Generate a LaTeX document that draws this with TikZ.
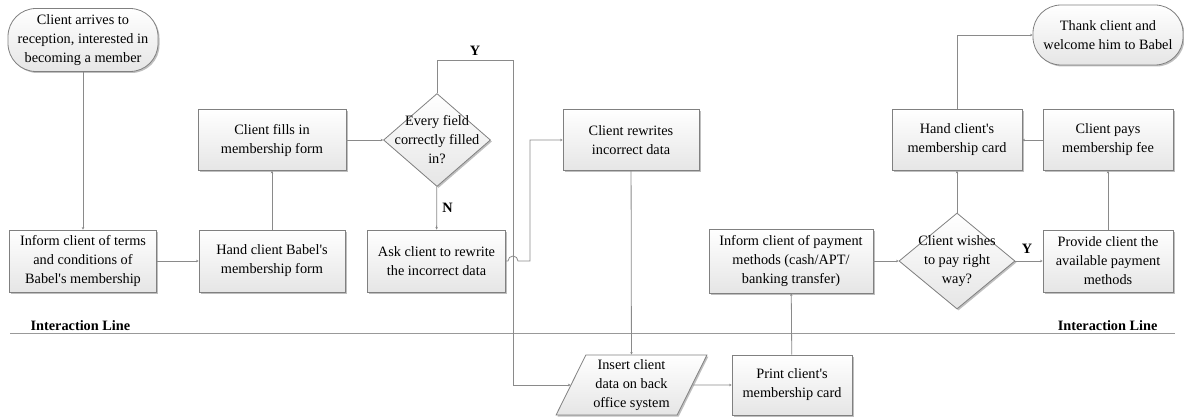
\documentclass[tikz,border=0pt]{standalone}
\usepackage{fontspec}
\setmainfont{Liberation Serif}
\usetikzlibrary{shapes.geometric,arrows.meta,shadows}

\definecolor{edge}{HTML}{808080}
\definecolor{wire}{HTML}{8A8A8A}
\newcommand{\ap}{\textquotesingle}

\tikzset{
  fillshade/.style={top color=white, bottom color=black!10, draw=edge, line width=0.8pt,
    drop shadow={shadow xshift=1.5pt, shadow yshift=-1.5pt, opacity=0.25, fill=black}},
  stepbox/.style={fillshade, rectangle, inner sep=0pt, align=center, font=\fontsize{14.3}{19}\selectfont},
  termbox/.style={stepbox, rounded corners=28pt},
  decbox/.style={fillshade, diamond, inner sep=0pt},
  iobox/.style={fillshade, trapezium, trapezium left angle=64, trapezium right angle=116,
    trapezium stretches=true, inner sep=0pt, align=center, font=\fontsize{14.3}{19}\selectfont},
  txt/.style={align=center, font=\fontsize{14.3}{19}\selectfont},
  flow/.style={draw=wire, line width=0.8pt, -{Stealth[length=2.5pt,width=2.5pt]}},
  yn/.style={font=\fontsize{14.3}{16}\bfseries\selectfont},
}

\begin{document}
\begin{tikzpicture}[x=1pt,y=-1pt]
\useasboundingbox (0,0) rectangle (1184,417);

% interaction line
\draw[draw=black!40, line width=1pt] (10,333) -- (1175,333);
\node[yn, anchor=base west] (il1) at (27,330) {Interaction Line};
\node[yn, anchor=base east] (il2) at (1161,330) {Interaction Line};

% front office nodes
\node[termbox, minimum width=150pt, minimum height=63pt] (start) at (83,40)
  {Client arrives to\\reception, interested in\\becoming a member};
\node[stepbox, minimum width=147pt, minimum height=62pt] (terms) at (83,261)
  {Inform client of terms\\and conditions of\\Babel\ap s membership};
\node[stepbox, minimum width=146pt, minimum height=62pt] (hand) at (272,261)
  {Hand client Babel\ap s\\membership form};
\node[stepbox, minimum width=148pt, minimum height=61pt] (fills) at (272,140)
  {Client fills in\\membership form};
\node[decbox, minimum width=107pt, minimum height=93pt] (check) at (437,140) {};
\node[txt] (checkt) at (437,140) {Every field\\correctly filled\\in?};
\node[stepbox, minimum width=138pt, minimum height=62pt] (ask) at (436.5,261)
  {Ask client to rewrite\\the incorrect data};
\node[stepbox, minimum width=136pt, minimum height=61pt] (rew) at (631,140)
  {Client rewrites\\incorrect data};
\node[stepbox, minimum width=164pt, minimum height=64pt] (payinfo) at (791,261)
  {Inform client of payment\\methods (cash/APT/\\banking transfer)};
\node[decbox, minimum width=116pt, minimum height=96pt] (wish) at (957,261) {};
\node[txt] (wisht) at (957,261) {Client wishes\\to pay right\\way?};
\node[stepbox, minimum width=130pt, minimum height=62pt] (provide) at (1108,261)
  {Provide client the\\available payment\\methods};
\node[stepbox, minimum width=130pt, minimum height=61pt] (pays) at (1108,140)
  {Client pays\\membership fee};
\node[stepbox, minimum width=130pt, minimum height=61pt] (card) at (957,140)
  {Hand client\ap s\\membership card};
\node[termbox, minimum width=150pt, minimum height=60pt] (thank) at (1108,35)
  {Thank client and\\welcome him to Babel};

% back office nodes
\node[iobox, minimum width=151pt, minimum height=60pt] (insert) at (631.5,385)
  {Insert client\\data on back\\office system};
\node[stepbox, minimum width=120pt, minimum height=60pt] (print) at (792,385)
  {Print client\ap s\\membership card};

% connectors
\draw[flow] (start) -- (terms);
\draw[flow] (terms) -- (hand);
\draw[flow] (hand) -- (fills);
\draw[flow] (fills) -- (check);
\draw[flow] (check) -- node[yn, right, pos=0.5, xshift=2pt] (nlab) {N} (ask);
\coordinate (ytop) at (513,60);
\draw[flow] (check.north) |- (ytop) |- (insert.west);
\node[yn] (ylab) at (475,51) {Y};
\coordinate (hopa) at (508,261);
\coordinate (hopb) at (530,261);
\draw[flow] (ask.east) -- (hopa) arc[start angle=180, end angle=0, radius=5pt] -- (hopb) |- (rew.west);
\draw[flow] (rew) -- (insert);
\draw[flow] (insert.east) -- (print.west);
\draw[flow] (print) -- (payinfo);
\draw[flow] (payinfo) -- (wish);
\draw[flow] (wish) -- (provide);
\node[yn] (ylab2) at (1027,249) {Y};
\draw[flow] (provide) -- (pays);
\draw[flow] (pays) -- (card);
\draw[flow] (wish) -- (card);
\draw[flow] (card.north) |- (thank.west);
\end{tikzpicture}
\end{document}
